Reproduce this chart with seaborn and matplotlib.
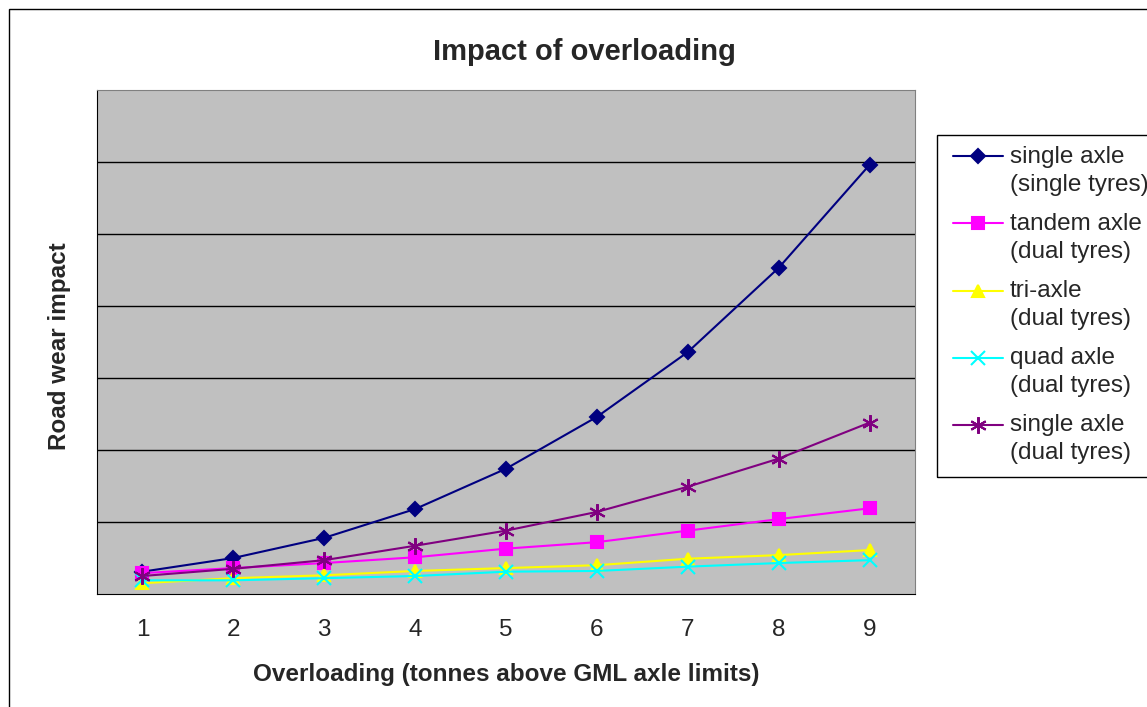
import numpy as np
import pandas as pd
import matplotlib
matplotlib.use("Agg")
import matplotlib.pyplot as plt
from matplotlib.patches import Rectangle
from matplotlib.ticker import FixedLocator
from matplotlib.legend_handler import HandlerLine2D
import seaborn as sns

# values (units = one gridline step)
overload = [1, 2, 3, 4, 5, 6, 7, 8, 9]
single_single = [0.31, 0.50, 0.78, 1.18, 1.74, 2.46, 3.36, 4.53, 5.96]
tandem_dual = [0.29, 0.36, 0.43, 0.51, 0.63, 0.72, 0.88, 1.04, 1.19]
tri_dual = [0.15, 0.22, 0.26, 0.32, 0.36, 0.40, 0.49, 0.54, 0.61]
quad_dual = [0.19, 0.19, 0.22, 0.25, 0.31, 0.32, 0.38, 0.43, 0.47]
single_dual = [0.25, 0.35, 0.47, 0.67, 0.88, 1.14, 1.49, 1.88, 2.38]

labels = ["single axle\n(single tyres)", "tandem axle\n(dual tyres)",
          "tri-axle\n(dual tyres)", "quad axle\n(dual tyres)",
          "single axle\n(dual tyres)"]
series = [single_single, tandem_dual, tri_dual, quad_dual, single_dual]
colors = ["#000080", "#FF00FF", "#FFFF00", "#00FFFF", "#800080"]
markers = ["D", "s", "^", "x", (6, 2, 0)]
msizes = [7, 8, 9, 10, 12]


class FirstLineHandler(HandlerLine2D):
    # put the legend line level with the first line of a two-line label
    def create_artists(self, legend, orig_handle, xdescent, ydescent,
                       width, height, fontsize, trans):
        arts = super().create_artists(legend, orig_handle, xdescent, ydescent,
                                      width, height, fontsize, trans)
        for a in arts:
            a.set_ydata(np.asarray(a.get_ydata()) + 0.60 * fontsize)
        return arts


sns.set_style("white")
plt.rcParams["font.family"] = ["Liberation Sans", "DejaVu Sans"]

fig = plt.figure(figsize=(11.47, 7.07), dpi=100)
ax = fig.add_axes([97/1147, 1-594/707, (915-97)/1147, (594-90)/707])
ax.set_facecolor("#C0C0C0")

for lab, vals, c, m, ms in zip(labels, series, colors, markers, msizes):
    df = pd.DataFrame({"x": overload, "y": vals})
    sns.lineplot(data=df, x="x", y="y", ax=ax, color=c, marker=m, markersize=ms,
                 markeredgecolor=c, markerfacecolor=c, markeredgewidth=1.5,
                 linewidth=1.5, label=lab, legend=False)

ax.set_xlim(0.5, 9.5)
ax.set_ylim(0, 7)
ax.set_xticks(overload)
ax.set_xticklabels([str(v) for v in overload], fontsize=17.5)
ax.xaxis.set_minor_locator(FixedLocator(np.arange(0.5, 10, 1)))
ax.tick_params(axis="x", which="major", length=0, pad=18)
ax.tick_params(axis="x", which="minor", length=9, width=1, color="black", direction="out")
ax.set_yticks(range(1, 7))
ax.set_yticklabels([])
ax.tick_params(axis="y", length=0)
ax.grid(axis="y", color="black", linewidth=1)
ax.set_axisbelow(True)
for s in ["left", "bottom"]:
    ax.spines[s].set_color("black")
for s in ["top", "right"]:
    ax.spines[s].set_color("#808080")

fig.text(584/1147, 1-52/707, "Impact of overloading", fontsize=21,
         fontweight="bold", ha="center", va="center")
ax.set_xlabel("Overloading (tonnes above GML axle limits)", fontsize=17.5,
              fontweight="bold", va="top")
ax.xaxis.set_label_coords(0.5, -0.137)
ax.set_ylabel("Road wear impact", fontsize=17.5, fontweight="bold")
ax.yaxis.set_label_coords(-0.032, 0.492)

handles, labs = ax.get_legend_handles_labels()
leg = fig.legend(handles, labs, loc="upper left", bbox_to_anchor=(937/1147, 1-130/707),
                 fontsize=17.5, frameon=False,
                 handlelength=2.05, labelspacing=0.70, borderpad=0.65,
                 handletextpad=0.3, borderaxespad=0,
                 handler_map={h: FirstLineHandler() for h in handles})
for t in leg.get_texts():
    t.set_linespacing(1.36)

# legend frame, running off the right edge like the original
fig.patches.append(Rectangle((937/1147, 1-477/707), 0.3, (477-135)/707,
                             transform=fig.transFigure, fill=False,
                             edgecolor="black", linewidth=1))
fig.patches.append(Rectangle((9/1147, -0.01), 1.2, 1.01 - 9/707, transform=fig.transFigure,
                             fill=False, edgecolor="black", linewidth=1))

fig.savefig("out.png", dpi=100, facecolor="white")
